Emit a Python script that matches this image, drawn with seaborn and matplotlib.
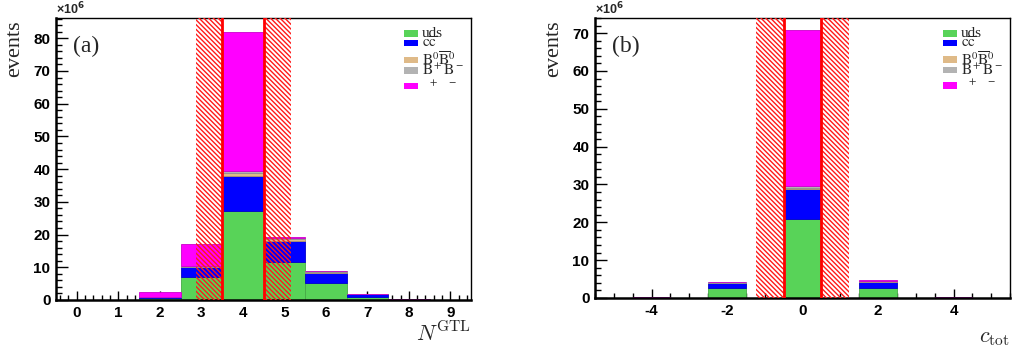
import numpy as np
import pandas as pd
import matplotlib
matplotlib.use("Agg")
import matplotlib.pyplot as plt
from matplotlib.ticker import MultipleLocator, AutoMinorLocator
from matplotlib.patches import Rectangle
import seaborn as sns

sns.set_theme(style="ticks")
plt.rcParams["font.family"] = ["Liberation Sans", "DejaVu Sans"]
plt.rcParams["axes.unicode_minus"] = False
plt.rcParams["hatch.linewidth"] = 1.0

# ---- data (events, units of 1e6) ----
processes = ["uds", "cc", "B0B0", "BpBm", "tautau"]
legend_labels = [
    "uds",
    r"$\mathrm{c}\overline{\mathrm{c}}$",
    r"$\mathrm{B}^0\overline{\mathrm{B}}^0$",
    r"$\mathrm{B}^+\mathrm{B}^-$",
    r"$\ \ ^{+}\ \ \ ^{-}$",
]
colors = ["#58d358", "#0000ff", "#dfba88", "#b3b3b3", "#ff00ff"]

# panel (a): N^GTL
ngtl_bins = [0, 1, 2, 3, 4, 5, 6, 7, 8, 9]
ngtl_uds = [0.0, 0.03, 0.5, 7.0, 27.2, 11.7, 5.3, 1.0, 0.15, 0.0]
ngtl_cc = [0.0, 0.02, 0.3, 3.1, 10.8, 6.3, 3.0, 0.7, 0.12, 0.0]
ngtl_b0b0 = [0.0, 0.0, 0.02, 0.1, 0.7, 0.6, 0.3, 0.05, 0.02, 0.0]
ngtl_bpbm = [0.0, 0.0, 0.02, 0.1, 0.6, 0.5, 0.2, 0.05, 0.02, 0.0]
ngtl_tau = [0.0, 0.05, 1.66, 6.8, 42.7, 0.3, 0.1, 0.1, 0.05, 0.0]

# panel (b): c_tot
ctot_bins = [-5, -4, -3, -2, -1, 0, 1, 2, 3, 4, 5]
ctot_uds = [0.0, 0.05, 0.0, 2.6, 0.0, 21.0, 0.0, 2.7, 0.0, 0.05, 0.0]
ctot_cc = [0.0, 0.05, 0.0, 1.4, 0.0, 7.7, 0.0, 1.6, 0.0, 0.05, 0.0]
ctot_b0b0 = [0.0, 0.0, 0.0, 0.05, 0.0, 0.35, 0.0, 0.1, 0.0, 0.0, 0.0]
ctot_bpbm = [0.0, 0.0, 0.0, 0.05, 0.0, 0.5, 0.0, 0.1, 0.0, 0.0, 0.0]
ctot_tau = [0.0, 0.1, 0.0, 0.1, 0.0, 41.2, 0.0, 0.25, 0.0, 0.1, 0.0]

# selection windows: hatched side bands and red cut lines
ngtl_cuts = [3.5, 4.5]
ngtl_bands = [(2.86, 3.5), (4.5, 5.17)]
ctot_cuts = [-0.5, 0.5]
ctot_bands = [(-1.24, -0.5), (0.5, 1.24)]


def long_frame(bins, series):
    rows = []
    for name, vals in zip(processes, series):
        for b, v in zip(bins, vals):
            rows.append({"bin": b, "count": v, "process": name})
    return pd.DataFrame(rows)


def darker(c, f=0.75):
    r, g, b, a = matplotlib.colors.to_rgba(c)
    return (r * f, g * f, b * f, 1)


fig = plt.figure(figsize=(10.15, 3.5), dpi=100)
ax_a = fig.add_axes([0.0552, 0.1429, 0.409, 0.8057])
ax_b = fig.add_axes([0.5862, 0.1486, 0.409, 0.8000])

panels = [
    (ax_a, ngtl_bins, [ngtl_uds, ngtl_cc, ngtl_b0b0, ngtl_bpbm, ngtl_tau],
     ngtl_cuts, ngtl_bands, (-0.5, 9.5), (0, 86.2), 1, 5, "(a)",
     r"$N^{\mathrm{GTL}}$", -0.148),
    (ax_b, ctot_bins, [ctot_uds, ctot_cc, ctot_b0b0, ctot_bpbm, ctot_tau],
     ctot_cuts, ctot_bands, (-5.5, 5.5), (0, 74.0), 2, 4, "(b)",
     r"$c_{\mathrm{tot}}$", -0.157),
]

palette = dict(zip(processes, colors))

for (ax, bins, series, cuts, bands, xlim, ylim, xmaj, xminor, tag,
     xlabel, xlab_y) in panels:
    df = long_frame(bins, series)
    # last hue level sits at the bottom of the stack
    sns.histplot(data=df, x="bin", weights="count", hue="process",
                 hue_order=processes[::-1], multiple="stack", discrete=True,
                 palette=palette, alpha=1, linewidth=0.6, legend=False,
                 ax=ax, zorder=2)
    for p in ax.patches:
        p.set_edgecolor(darker(p.get_facecolor(), 0.8))

    for lo, hi in bands:
        ax.axvspan(lo, hi, facecolor="none", edgecolor="#ff1a1a",
                   hatch="\\" * 7, linewidth=0, zorder=3)
    for c in cuts:
        ax.axvline(c, color="#ff0000", linewidth=2.0, zorder=4)

    ax.set_xlim(*xlim)
    ax.set_ylim(*ylim)
    ax.xaxis.set_major_locator(MultipleLocator(xmaj))
    ax.xaxis.set_minor_locator(AutoMinorLocator(xminor))
    ax.yaxis.set_major_locator(MultipleLocator(10))
    ax.yaxis.set_minor_locator(AutoMinorLocator(5))
    ax.tick_params(axis="both", which="both", direction="in", colors="black",
                   top=False, right=False, labelsize=11)
    ax.tick_params(axis="y", which="major", length=8.5, width=1.0, pad=4)
    ax.tick_params(axis="y", which="minor", length=4.5, width=1.0)
    ax.tick_params(axis="x", which="major", length=6.5, width=1.0, pad=4)
    ax.tick_params(axis="x", which="minor", length=3.5, width=1.0)
    ax.set_xlabel("")
    ax.set_ylabel("")
    for side in ["left", "bottom"]:
        ax.spines[side].set_linewidth(1.8)
        ax.spines[side].set_color("black")
    for side in ["top", "right"]:
        ax.spines[side].set_linewidth(1.0)
        ax.spines[side].set_color("black")
    ax.set_zorder(1)

    ax.text(0.0, 1.003, r"×10$^{\mathbf{6}}$", transform=ax.transAxes,
            ha="left", va="bottom", fontsize=9, fontweight="bold")
    ax.text(0.04, 0.90, tag, transform=ax.transAxes, ha="left",
            va="center", fontsize=17, fontfamily="Liberation Serif")
    ax.text(-0.099, 0.89, "events", transform=ax.transAxes, rotation=90,
            ha="center", va="center", fontsize=16,
            fontfamily="Liberation Serif")
    ax.text(1.0, xlab_y, xlabel, transform=ax.transAxes, ha="right",
            va="baseline", fontsize=16, math_fontfamily="cm")

    # legend block, upper right
    ys = [0.945, 0.911, 0.851, 0.814, 0.759]
    for y, col, lab in zip(ys, colors, legend_labels):
        ax.add_patch(Rectangle((0.8386, y - 0.012), 0.034, 0.024,
                               transform=ax.transAxes, facecolor=col,
                               edgecolor="none", zorder=5, clip_on=False))
        ax.text(0.882, y, lab, transform=ax.transAxes, ha="left",
                va="center", fontsize=11, fontfamily="Liberation Serif",
                math_fontfamily="stix", zorder=5)

# bold tick numbers, applied once the ticks exist
fig.canvas.draw()
for ax in (ax_a, ax_b):
    for lab in ax.get_xticklabels() + ax.get_yticklabels():
        lab.set_fontweight("bold")

fig.savefig("out.png", dpi=100, facecolor="white")
